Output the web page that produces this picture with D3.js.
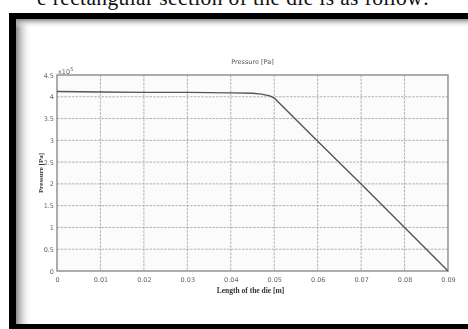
<!DOCTYPE html>
<html>
<head>
<meta charset="utf-8">
<script src="https://cdn.jsdelivr.net/npm/d3@7"></script>
<style>
  html, body { margin: 0; padding: 0; background: #fff; }
  svg { display: block; }
</style>
</head>
<body>
<svg id="fig" width="468" height="329"></svg>
<script>
// Pressure along the die (values in units of 1e5 Pa)
const lengthM   = [0, 0.01, 0.02, 0.03, 0.04, 0.045, 0.047, 0.049, 0.05, 0.06, 0.07, 0.08, 0.09];
const pressure  = [4.12, 4.11, 4.10, 4.10, 4.09, 4.08, 4.06, 4.02, 3.97, 2.98, 2.00, 1.00, 0.0];
const xTicks    = [0, 0.01, 0.02, 0.03, 0.04, 0.05, 0.06, 0.07, 0.08, 0.09];
const yTicks    = [0, 0.5, 1, 1.5, 2, 2.5, 3, 3.5, 4, 4.5];

const svg = d3.select("#fig");
const defs = svg.append("defs");

// soft drop shadow used on the chart ink
const sh = defs.append("filter").attr("id", "shadow")
  .attr("x", "-20%").attr("y", "-20%").attr("width", "140%").attr("height", "160%");
sh.append("feGaussianBlur").attr("in", "SourceAlpha").attr("stdDeviation", 2.2).attr("result", "b");
sh.append("feOffset").attr("in", "b").attr("dy", 4).attr("result", "o");
sh.append("feComponentTransfer").attr("in", "o").attr("result", "s")
  .append("feFuncA").attr("type", "linear").attr("slope", 0.35);
const shm = sh.append("feMerge");
shm.append("feMergeNode").attr("in", "s");
sh.append("feGaussianBlur").attr("in", "SourceGraphic").attr("stdDeviation", 0.35).attr("result", "g");
shm.append("feMergeNode").attr("in", "g");

// inner shading of the framed panel
const gl = defs.append("linearGradient").attr("id", "leftShade").attr("x1", 0).attr("x2", 1);
gl.append("stop").attr("offset", 0).attr("stop-color", "#8a8a8a");
gl.append("stop").attr("offset", 1).attr("stop-color", "#ffffff").attr("stop-opacity", 0);
const gt = defs.append("linearGradient").attr("id", "topShade").attr("x1", 0).attr("x2", 0).attr("y1", 0).attr("y2", 1);
gt.append("stop").attr("offset", 0).attr("stop-color", "#8a8a8a");
gt.append("stop").attr("offset", 1).attr("stop-color", "#ffffff").attr("stop-opacity", 0);

// caption line above the figure
svg.append("text")
  .attr("x", 37).attr("y", 4.5)
  .attr("font-family", "Liberation Serif, Times New Roman, serif")
  .attr("font-size", 21.5)
  .attr("textLength", 392).attr("lengthAdjust", "spacing")
  .attr("fill", "#111")
  .text("e rectangular section of the die is as follow:");

// black frame
svg.append("rect").attr("x", 9).attr("y", 13).attr("width", 470).attr("height", 330).attr("fill", "#000");
svg.append("rect").attr("x", 16).attr("y", 19).attr("width", 470).attr("height", 305).attr("fill", "#fff");
svg.append("rect").attr("x", 16).attr("y", 19).attr("width", 16).attr("height", 305).attr("fill", "url(#leftShade)");
svg.append("rect").attr("x", 16).attr("y", 19).attr("width", 470).attr("height", 9).attr("fill", "url(#topShade)");

const x = d3.scaleLinear().domain([0, 0.09]).range([57, 448]);
const y = d3.scaleLinear().domain([0, 4.5]).range([271, 75]);

const g = svg.append("g").attr("filter", "url(#shadow)");

// plot background
g.append("rect").attr("x", x(0)).attr("y", y(4.5))
  .attr("width", x(0.09) - x(0)).attr("height", y(0) - y(4.5))
  .attr("fill", "#fbfbfb");

// grid
const grid = g.append("g").attr("stroke", "#a8a8a8").attr("stroke-width", 0.9).attr("stroke-dasharray", "2.5,1.2");
grid.selectAll(".vg").data(xTicks.slice(1, -1)).join("line")
  .attr("x1", d => x(d)).attr("x2", d => x(d)).attr("y1", y(4.5)).attr("y2", y(0));
grid.selectAll(".hg").data(yTicks.slice(1, -1)).join("line")
  .attr("y1", d => y(d)).attr("y2", d => y(d)).attr("x1", x(0)).attr("x2", x(0.09));

// axes
const fmt = d => d === 0 ? "0" : String(d);
const xAxis = g.append("g").attr("transform", `translate(0,${y(0)})`)
  .call(d3.axisBottom(x).tickValues(xTicks).tickFormat(fmt).tickSize(0).tickPadding(6));
const yAxis = g.append("g").attr("transform", `translate(${x(0)},0)`)
  .call(d3.axisLeft(y).tickValues(yTicks).tickFormat(fmt).tickSize(0).tickPadding(3));
[xAxis, yAxis].forEach(a => {
  a.select(".domain").remove();
  a.selectAll("text").attr("font-family", "DejaVu Sans, sans-serif").attr("font-size", 6.5).attr("fill", "#666");
});

// axis box
g.append("rect").attr("x", x(0)).attr("y", y(4.5))
  .attr("width", x(0.09) - x(0)).attr("height", y(0) - y(4.5))
  .attr("fill", "none").attr("stroke", "#8a8a8a").attr("stroke-width", 1.4);

// exponent marker
const ex = g.append("text").attr("x", x(0) + 1).attr("y", y(4.5) - 1.5)
  .attr("font-family", "DejaVu Sans, sans-serif").attr("font-size", 6.5).attr("fill", "#666");
ex.append("tspan").text("x10");
ex.append("tspan").attr("dy", -3).attr("font-size", 5).text("5");

// pressure curve
g.append("path")
  .datum(lengthM.map((d, i) => [d, pressure[i]]))
  .attr("fill", "none").attr("stroke", "#555").attr("stroke-width", 1.4)
  .attr("stroke-linejoin", "round")
  .attr("d", d3.line().x(d => x(d[0])).y(d => y(d[1])));

// titles
g.append("text").attr("x", (x(0) + x(0.09)) / 2).attr("y", 64)
  .attr("text-anchor", "middle")
  .attr("font-family", "DejaVu Sans, sans-serif").attr("font-size", 6.5).attr("fill", "#555")
  .text("Pressure [Pa]");
g.append("text").attr("x", (x(0) + x(0.09)) / 2 - 2).attr("y", 293)
  .attr("text-anchor", "middle")
  .attr("font-family", "Liberation Serif, serif").attr("font-weight", "bold")
  .attr("font-size", 7.5).attr("fill", "#333")
  .text("Length of the die [m]");
g.append("text")
  .attr("transform", `translate(43,${(y(0) + y(4.5)) / 2}) rotate(-90)`)
  .attr("text-anchor", "middle")
  .attr("font-family", "Liberation Serif, serif").attr("font-weight", "bold")
  .attr("font-size", 7).attr("fill", "#333")
  .text("Pressure [Pa]");
</script>
</body>
</html>
